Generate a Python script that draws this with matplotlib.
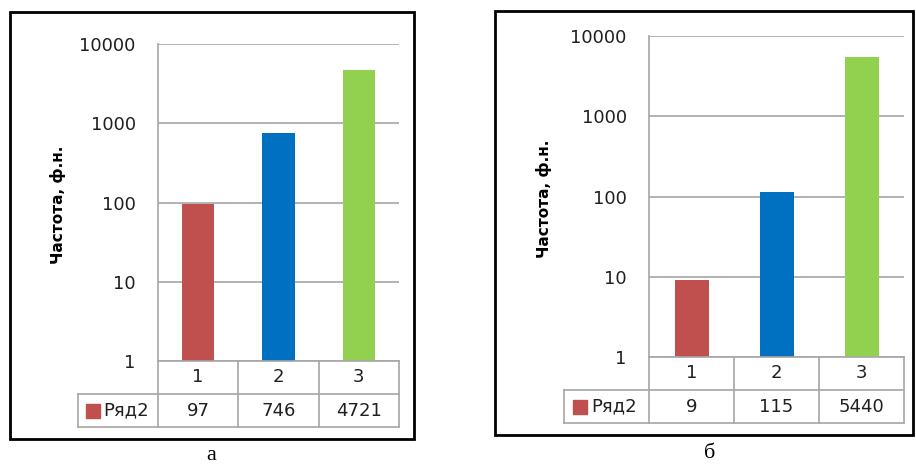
import matplotlib.pyplot as plt
from matplotlib.patches import Rectangle

categories = ['1', '2', '3']
series_name = 'Ряд2'
values_a = [97, 746, 4721]
values_b = [9, 115, 5440]
bar_colors = ['#C0504D', '#0070C0', '#92D050']
y_ticks = [1, 10, 100, 1000, 10000]
y_label = 'Частота, ф.н.'
captions = ['а', 'б']

W, H = 916, 466
grid_col = '#A6A6A6'

fig = plt.figure(figsize=(W / 100, H / 100), dpi=100)


def px_box(x0, y0, x1, y1):
    # pixel box (top-left origin) -> figure fraction rect
    return [x0 / W, 1 - y1 / H, (x1 - x0) / W, (y1 - y0) / H]


def draw_panel(values, plot_px, table_bottom, frame_px, label_xy, caption_xy, caption):
    x0, y0, x1, y1 = plot_px
    ax = fig.add_axes(px_box(x0, y0, x1, y1))
    ax.set_yscale('log')
    xs = list(range(1, len(categories) + 1))
    ax.bar(xs, values, width=0.4, color=bar_colors, zorder=3)
    ax.set_xlim(0.5, len(categories) + 0.5)
    ax.set_ylim(1, 10000)
    ax.set_yticks(y_ticks)
    ax.set_yticklabels([str(t) for t in y_ticks])
    ax.minorticks_off()
    ax.set_xticks([])
    ax.tick_params(axis='y', length=0, pad=16, labelsize=13, labelcolor='#202020')
    ax.grid(axis='y', color=grid_col, linewidth=1.2, zorder=0)
    for s in ['top', 'right', 'bottom']:
        ax.spines[s].set_visible(False)
    ax.spines['left'].set_color(grid_col)
    ax.spines['left'].set_linewidth(1.2)

    # data table under the plot
    tb = fig.add_axes(px_box(x0, y1, x1, table_bottom))
    tb.set_xlim(0.5, len(categories) + 0.5)
    tb.set_ylim(0, 2)
    tb.axis('off')
    n = len(categories)
    lw = 1.2
    tb.plot([0.5, n + 0.5], [2, 2], color=grid_col, lw=lw, clip_on=False)
    for yy in [1, 0]:
        tb.plot([-0.5, n + 0.5], [yy, yy], color=grid_col, lw=lw, clip_on=False)
    for k in range(n + 1):
        tb.plot([k + 0.5, k + 0.5], [0, 2], color=grid_col, lw=lw, clip_on=False)
    tb.plot([-0.5, -0.5], [0, 1], color=grid_col, lw=lw, clip_on=False)
    for i, c in enumerate(categories):
        tb.text(i + 1, 1.5, c, ha='center', va='center', fontsize=13, color='#202020')
        tb.text(i + 1, 0.5, str(values[i]), ha='center', va='center', fontsize=13, color='#202020')
    tb.plot([-0.31], [0.5], marker='s', markersize=9.5, color=bar_colors[0], clip_on=False)
    tb.text(-0.18, 0.5, series_name, ha='left', va='center', fontsize=13, color='#202020')

    fx0, fy0, fx1, fy1 = frame_px
    fig.patches.append(Rectangle((fx0 / W, 1 - fy1 / H), (fx1 - fx0) / W, (fy1 - fy0) / H,
                                 transform=fig.transFigure, fill=False,
                                 edgecolor='black', linewidth=2))
    fig.text(label_xy[0] / W, 1 - label_xy[1] / H, y_label, rotation=90,
             ha='center', va='center', fontsize=11, fontweight='bold')
    fig.text(caption_xy[0] / W, 1 - caption_xy[1] / H, caption, ha='center', va='center',
             fontsize=16, family='Liberation Serif')


draw_panel(values_a, (158, 44, 399, 361), 427, (10, 12, 414, 439), (58, 205), (211, 456), captions[0])
draw_panel(values_b, (649, 36, 904, 357), 423, (495, 11, 913, 435), (544, 199), (710, 454), captions[1])

fig.savefig('out.png', dpi=100)
